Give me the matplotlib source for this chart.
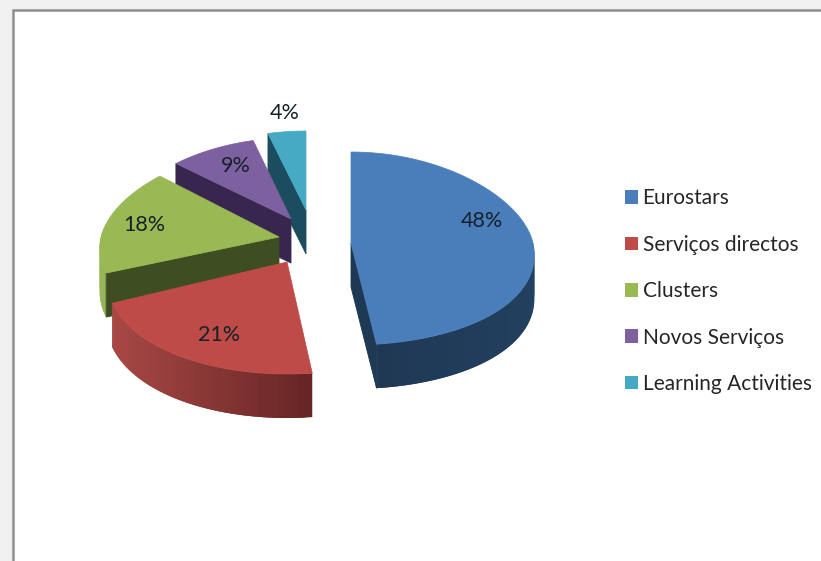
import numpy as np
import matplotlib
matplotlib.use("Agg")
import matplotlib.pyplot as plt
from matplotlib.patches import Patch, Rectangle
from matplotlib.colors import to_rgb

# ---- data ----
categories = ["Eurostars", "Serviços directos", "Clusters", "Novos Serviços", "Learning Activities"]
values = [48, 21, 18, 9, 4]

# ---- style and layout (pixel space of the picture) ----
top_colors = ["#4A7EBB", "#BE4B48", "#98B954", "#7D60A0", "#46AAC5"]
face_colors = ["#1F3854", "#5A1F1E", "#3F4E22", "#38264F", "#1B4D5E"]
wall_left = ["#1F3854", "#A84845", "#93B350", "#38264F", "#1B4D5E"]
wall_right = ["#22405F", "#652524", "#93B350", "#38264F", "#1B4D5E"]
apex_x = [351, 287, 279, 291, 306]
apex_y = [243, 262, 237, 219, 210]
radius_x = [182, 180, 178, 172, 173]
radius_top = [91, 91, 89, 81, 79]
radius_bottom = [102, 112, 98, 98, 98]
label_xy = [(482, 221), (219, 335), (144, 225), (236, 166), (285, 113)]
depth = 44
persp = 0.12
FONT = "Lato"
FS = 15

fig = plt.figure(figsize=(8.21, 5.61), dpi=100, facecolor="#F0F0F0")
ax = fig.add_axes([0, 0, 1, 1])
ax.set_xlim(0, 821)
ax.set_ylim(561, 0)
ax.axis("off")

ax.add_patch(Rectangle((12.5, 10), 830, 600, facecolor="white", edgecolor="#8F8F8F", linewidth=1.8, zorder=0))


def rim(i, deg):
    t = np.radians(deg)
    s, c = np.sin(t), np.cos(t)
    ry = np.where(c > 0, radius_top[i], radius_bottom[i])
    x = apex_x[i] + radius_x[i] * s * (1 - persp * c)
    y = apex_y[i] - ry * c
    return x, y


edges = np.concatenate([[0], np.cumsum(values)]) * 3.6
order = [4, 3, 2, 1, 0]
for i in order:
    a0, a1 = edges[i], edges[i + 1]
    z = 2 + order.index(i) * 3
    # outer wall, shaded along the rim; each strip overlaps the next so no seams show
    w0, w1 = max(a0, 90), min(a1, 270)
    if w1 > w0:
        th = np.linspace(w0, w1, 40)
        x, y = rim(i, th)
        L, R = np.array(to_rgb(wall_left[i])), np.array(to_rgb(wall_right[i]))
        span = max(x.max() - x.min(), 1)
        for k in range(len(th) - 1):
            f = ((x[k] + x[k + 1]) / 2 - x.min()) / span
            col = L + (R - L) * f
            e = min(k + 2, len(th) - 1)
            xs = np.r_[x[k:e + 1], x[k:e + 1][::-1]]
            ys = np.r_[y[k:e + 1], y[k:e + 1][::-1] + depth]
            ax.fill(xs, ys, facecolor=col, edgecolor="none", linewidth=0, zorder=z)
    # cut faces that look towards the viewer
    for ang, show in ((a0, np.sin(np.radians(a0)) < -1e-6), (a1, np.sin(np.radians(a1)) > 1e-6)):
        if show:
            ex, ey = rim(i, ang)
            ax.fill([apex_x[i], ex, ex, apex_x[i]],
                    [apex_y[i], ey, ey + depth, apex_y[i] + depth],
                    color=face_colors[i], linewidth=0.6, zorder=z + 1)
    # top surface
    th = np.linspace(a0, a1, 120)
    x, y = rim(i, th)
    ax.fill(np.r_[apex_x[i], x], np.r_[apex_y[i], y], color=top_colors[i], linewidth=0.5, zorder=z + 2)

for v, (lx, ly) in zip(values, label_xy):
    ax.text(lx, ly, f"{v}%", ha="center", va="center", fontsize=15.5, family=FONT, color="#15202B", zorder=40)

handles = [Patch(facecolor=c, edgecolor="none") for c in top_colors]
leg = ax.legend(handles, categories, loc="upper left", bbox_to_anchor=(608, 171.5),
                bbox_transform=ax.transData, frameon=False,
                prop={"family": FONT, "size": FS}, labelspacing=1.27, handlelength=0.62,
                handleheight=0.62, handletextpad=0.24, borderpad=0.3, labelcolor="#262626")

fig.savefig("out.png", dpi=100, facecolor=fig.get_facecolor())
